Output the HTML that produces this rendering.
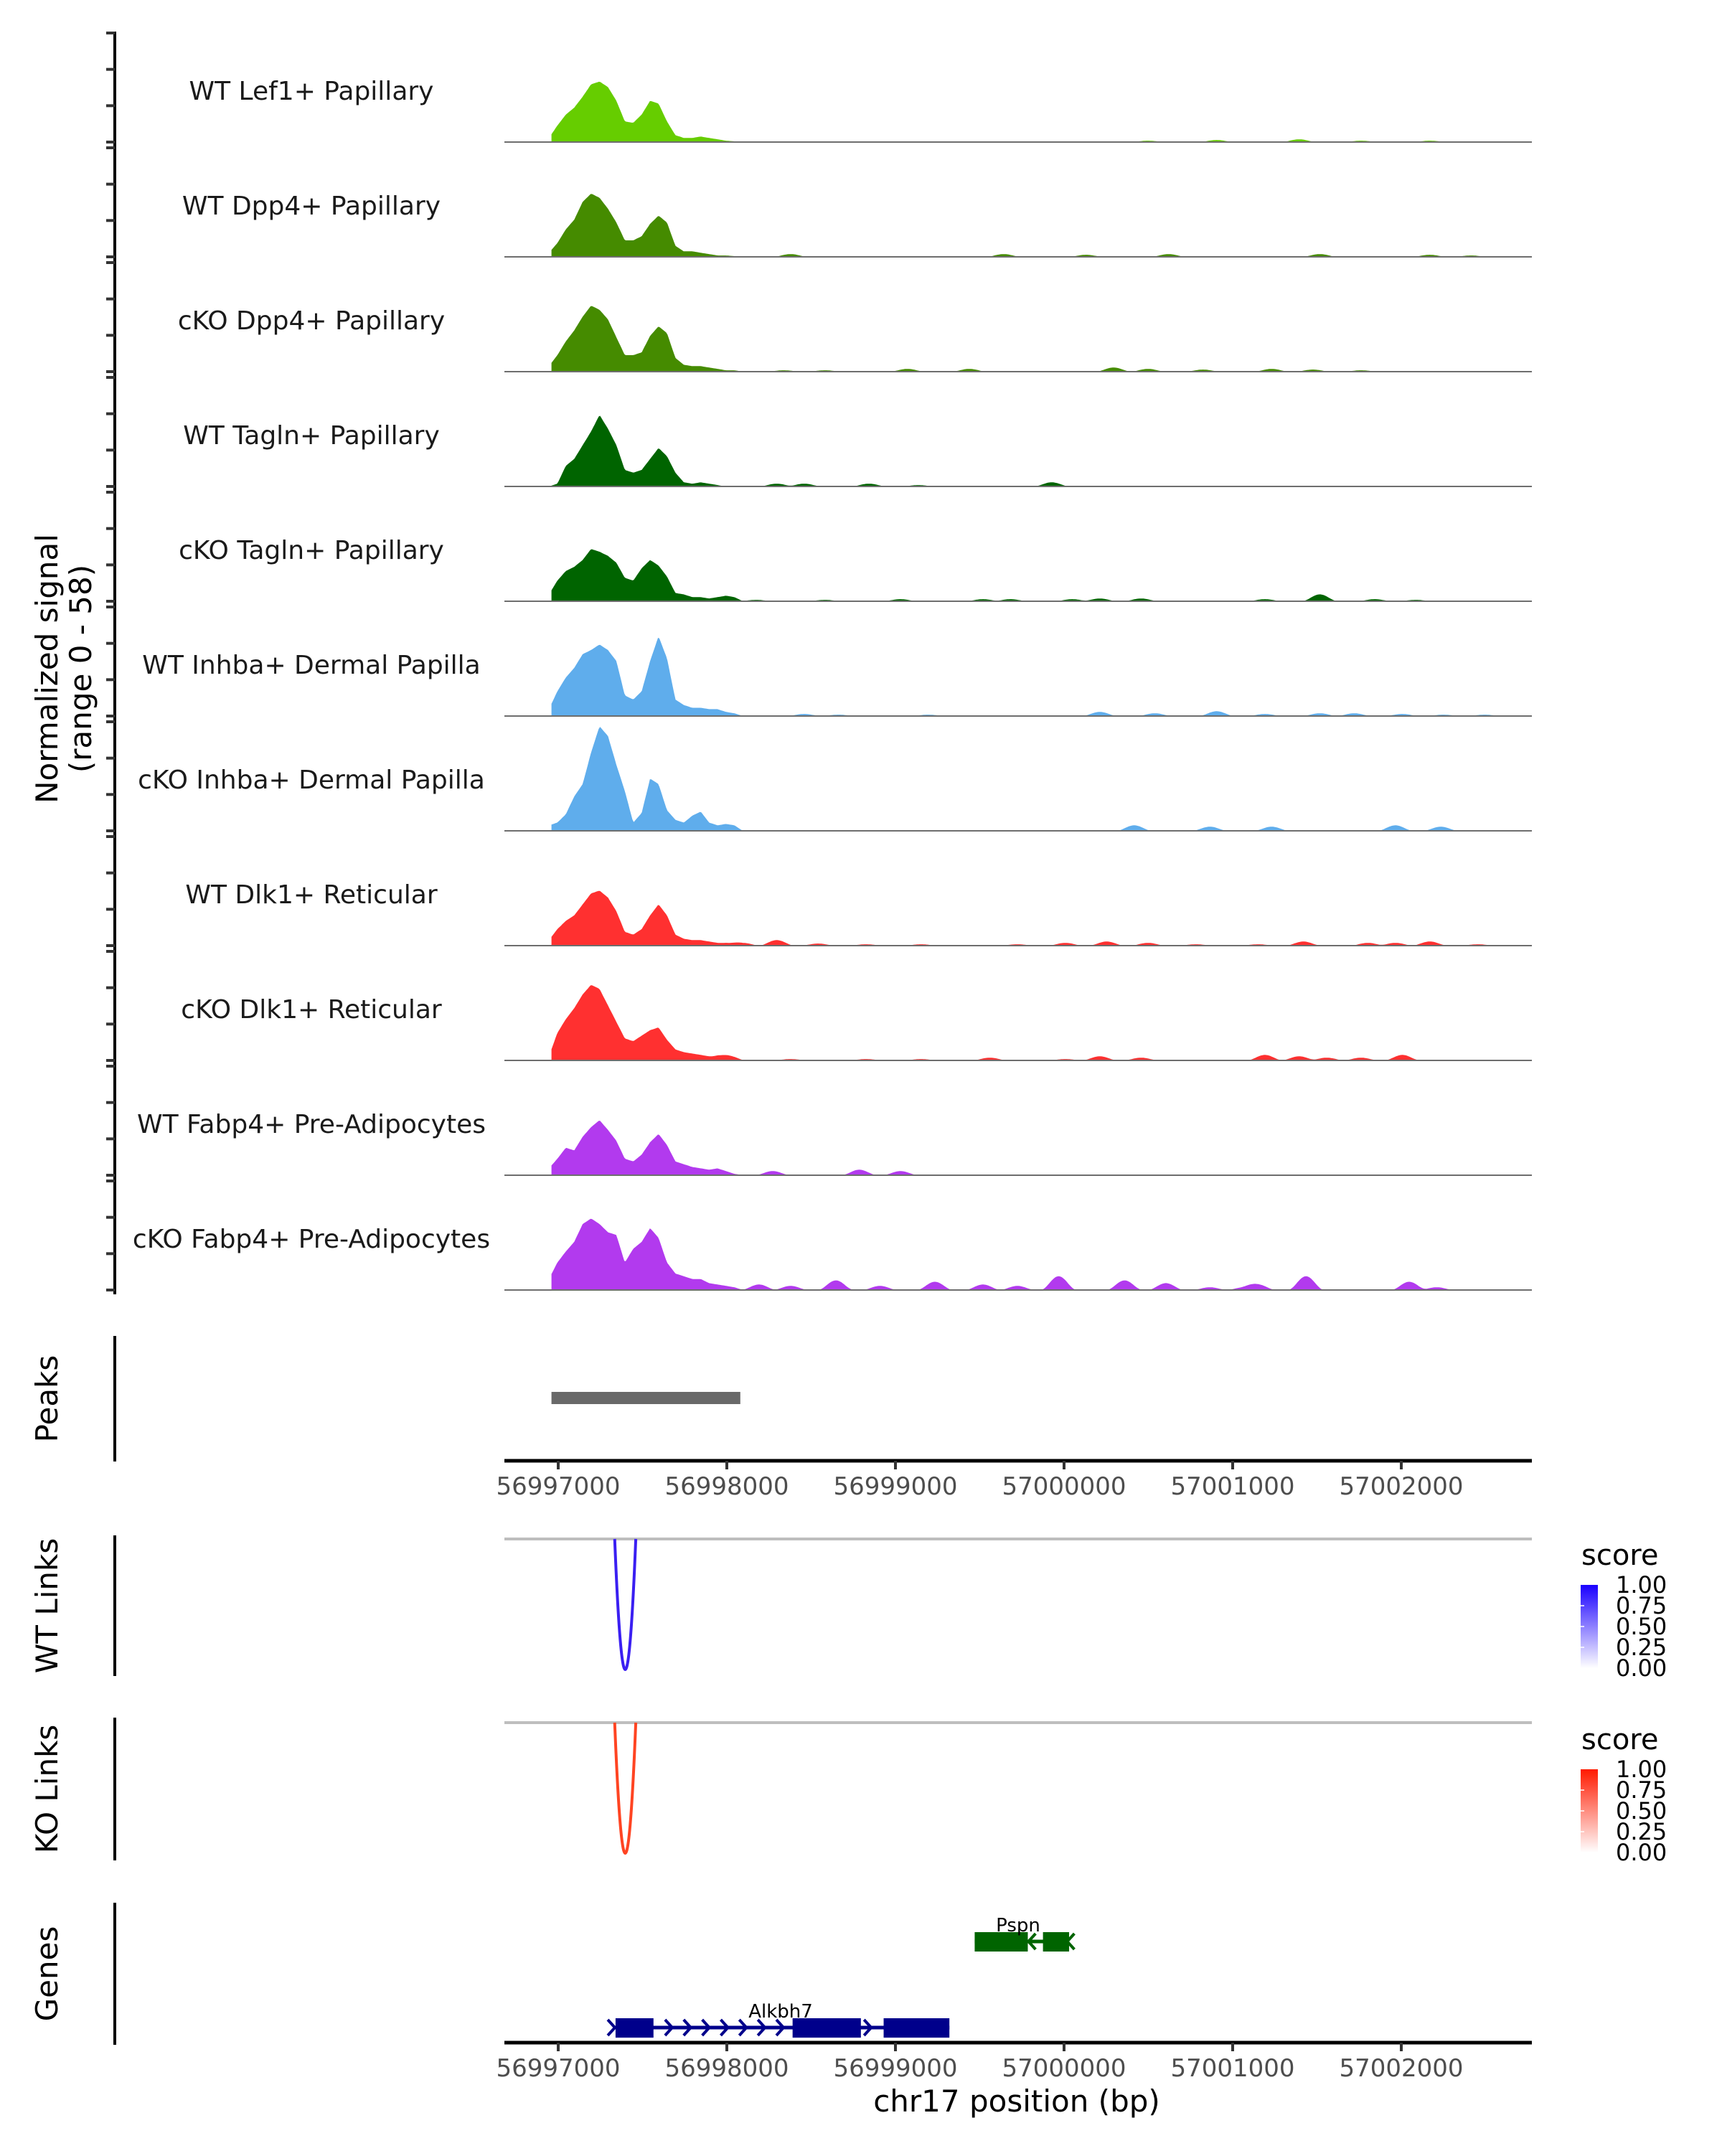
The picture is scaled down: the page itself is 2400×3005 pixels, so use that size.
<!DOCTYPE html>
<html><head><meta charset="utf-8"><style>
html,body{margin:0;padding:0;background:#fff}
svg text{font-family:"DejaVu Sans","Liberation Sans",sans-serif}
</style></head><body>
<svg id="chart" xmlns="http://www.w3.org/2000/svg" width="2400" height="3000" viewBox="0 0 2400 3000">
<defs>
<linearGradient id="gBlue" x1="0" y1="1" x2="0" y2="0"><stop offset="0" stop-color="#ffffff"/><stop offset="1" stop-color="#1a00ff"/></linearGradient>
<linearGradient id="gRed" x1="0" y1="1" x2="0" y2="0"><stop offset="0" stop-color="#ffffff"/><stop offset="1" stop-color="#ff1a00"/></linearGradient>
</defs>
<g id="tracks"></g>
<text transform="translate(80,932) rotate(-90)" text-anchor="middle" font-size="42" fill="#000">Normalized signal</text>
<text transform="translate(127,932) rotate(-90)" text-anchor="middle" font-size="42" fill="#000">(range 0 - 58)</text>
<g id="lower"></g>
</svg>
<script>
// ---- data ----
const trackNames = ["WT Lef1+ Papillary","WT Dpp4+ Papillary","cKO Dpp4+ Papillary","WT Tagln+ Papillary","cKO Tagln+ Papillary","WT Inhba+ Dermal Papilla","cKO Inhba+ Dermal Papilla","WT Dlk1+ Reticular","cKO Dlk1+ Reticular","WT Fabp4+ Pre-Adipocytes","cKO Fabp4+ Pre-Adipocytes"];
const trackColors = ["#66cd00","#458b00","#458b00","#006400","#006400","#5fadec","#5fadec","#ff3030","#ff3030","#b23aee","#b23aee"];
const binStart = 56996920;
const binSize = 50;
// main peak region signal (50bp bins)
const sigLef1 = [3,12,20,25,33,42,44,40,30,15,14,20,30,28,15,5,3,3,4,3,2,1,0.5,0];
const sigWtDpp4 = [3,10,20,27,40,46,43,35,25,12,12,15,24,30,25,8,4,4,3,2,1,1,0.5,0];
const sigKoDpp4 = [4,12,22,30,40,48,45,38,25,12,12,14,26,33,28,10,5,4,4,3,2,1,1,0];
const sigWtTagln = [0,2,15,20,30,40,52,42,30,12,10,12,20,28,22,10,3,2,3,2,1,0,0,0];
const sigKoTagln = [5,15,22,25,30,38,36,33,28,17,15,24,30,26,18,6,5,3,3,2,3,4,3,0];
const sigWtInhba = [5,18,28,35,45,48,52,48,40,15,12,18,40,58,42,12,8,6,6,5,5,3,2,0];
const sigKoInhba = [4,6,12,25,34,57,76,69,48,29,6,13,38,34,15,8,6,11,14,6,4,5,4,0];
const sigWtDlk1 = [4,12,18,22,30,38,40,35,25,10,8,12,22,30,22,8,5,4,4,3,2,2,1,0];
const sigKoDlk1 = [3,20,30,38,48,55,52,40,28,16,14,18,22,24,15,8,6,5,4,3,3,2,1,0];
const sigWtFabp4 = [5,12,20,18,28,35,40,33,25,12,10,15,24,30,22,10,8,6,5,4,5,3,1,0];
const sigKoFabp4 = [8,20,28,35,48,52,48,42,40,20,30,35,45,38,20,12,10,8,8,5,4,3,2,0];
const mainSignals = [sigLef1,sigWtDpp4,sigKoDpp4,sigWtTagln,sigKoTagln,sigWtInhba,sigKoInhba,sigWtDlk1,sigKoDlk1,sigWtFabp4,sigKoFabp4];
// small distal bumps: [bp offset from 56997000, height]
const bumpsLef1 = [[3498,1],[3905,1.5],[4394,2],[4761,1],[5169,1]];
const bumpsWtDpp4 = [[1378,2],[2642,2],[3131,1.5],[3620,2],[4517,2],[5169,1.5],[5414,1]];
const bumpsKoDpp4 = [[1337,1],[1582,1],[2071,2],[2438,2],[3294,3],[3498,2],[3824,1.5],[4231,2],[4476,1.5],[4761,1]];
const bumpsWtTagln = [[1296,2],[1459,2],[1843,2],[2136,1],[2927,3]];
const bumpsKoTagln = [[1174,1],[1582,1],[2030,1.5],[2519,1.5],[2682,1.5],[3049,1.5],[3212,2],[3457,2],[4191,1.5],[4517,5],[4843,1.5],[5087,1]];
const bumpsWtInhba = [[1459,1.5],[1663,1],[2193,1],[3212,3],[3538,2],[3905,3.5],[4191,1.5],[4517,2],[4721,2],[5006,1.5],[5250,1],[5495,1]];
const bumpsKoInhba = [[3416,4],[3865,3],[4231,3],[4965,4],[5234,3]];
const bumpsWtDlk1 = [[1093,2],[1296,4],[1541,1.5],[1826,1],[2152,1],[2723,1],[3008,2],[3253,3],[3498,2],[3783,1],[4150,1],[4419,3],[4802,2],[4965,2],[5169,3],[5454,1]];
const bumpsKoDlk1 = [[1011,2],[1378,1],[1826,1],[2152,1],[2560,2],[3008,1],[3212,3],[3457,2],[4191,4],[4394,3],[4558,2],[4761,2],[5006,4]];
const bumpsWtFabp4 = [[1272,3],[1786,4],[2030,3]];
const bumpsKoFabp4 = [[1190,4],[1378,3],[1647,7],[1908,3],[2234,6],[2519,4],[2723,3],[2968,10],[3359,7],[3604,5],[3865,2],[4068,2],[4150,4],[4435,10],[5047,6],[5210,2]];
const allBumps = [bumpsLef1,bumpsWtDpp4,bumpsKoDpp4,bumpsWtTagln,bumpsKoTagln,bumpsWtInhba,bumpsKoInhba,bumpsWtDlk1,bumpsKoDlk1,bumpsWtFabp4,bumpsKoFabp4];
const xTicks = [56997000,56998000,56999000,57000000,57001000,57002000];
const peaks = [[56996960,56998080]];
const linkStarts = [56997335];
const linkEnds = [56997460];
const legendLabels = ["1.00","0.75","0.50","0.25","0.00"];
const geneAlkbh7Exons = [[56997340,56997565],[56998390,56998795],[56998930,56999320]];
const genePspnExons = [[56999470,56999785],[56999875,57000030]];

// ---- scales ----
const NS = "http://www.w3.org/2000/svg";
const X0 = 703, X1 = 2135;
const BP0 = 56997000 - (778 - 703) / 0.235, BP1 = 56997000 + (2135 - 778) / 0.235;
function xs(bp){ return X0 + (bp - BP0) / (BP1 - BP0) * (X1 - X0); }
const trackH = 152, yMax = 79.3;
function ys(base, v){ return base - v / yMax * trackH; }
function el(tag, attrs, parent){ const e = document.createElementNS(NS, tag); for (const k in attrs) e.setAttribute(k, attrs[k]); parent.appendChild(e); return e; }

function signalAt(i, bp){
  const s = mainSignals[i];
  let v = 0;
  const f = (bp - binStart) / binSize - 0.5;
  if (f >= 0 && f <= s.length - 1){ const k = Math.floor(f), t = f - k; v = s[k] * (1 - t) + (s[Math.min(k + 1, s.length - 1)]) * t; }
  for (const b of allBumps[i]){ const d = Math.abs(bp - (56997000 + b[0])); if (d < 110) v += b[1] * (0.5 + 0.5 * Math.cos(Math.PI * d / 110)); }
  return v;
}

const tracksG = document.getElementById('tracks');
const yal = el('line', {x1:160, y1:44, x2:160, y2:1804, stroke:'#000', 'stroke-width':4}, tracksG);


for (let i = 0; i < trackNames.length; i++){
  const base = 198 + 160 * i;
  const g = el('g', {}, tracksG);
  
  
  for (let k = 0; k < 4; k++){
    const t = el('line', {x1:148, x2:160, y1: base - k * trackH / 3, y2: base - k * trackH / 3, stroke:'#333', 'stroke-width':4}, g);
    
    
  }
  let d = '';
  const startBp = binStart + 25 + 15;
  d += 'M' + xs(startBp).toFixed(1) + ',' + base;
  for (let bp = startBp; bp <= BP1; bp += 8){ d += 'L' + xs(bp).toFixed(1) + ',' + ys(base, signalAt(i, bp)).toFixed(1); }
  d += 'L' + X1 + ',' + base + 'Z';
  const area = el('path', {d: d, fill: trackColors[i]}, g);
  
  
  const bl = el('line', {x1:X0, x2:X1, y1:base, y2:base, stroke:'#6e6e6e', 'stroke-width':2}, g);
  
  
  const lab = el('text', {x:434, y: base - 59, 'text-anchor':'middle', 'font-size':36, fill:'#1a1a1a'}, g);
  lab.textContent = trackNames[i];
  
  
}

const L = document.getElementById('lower');
function axisLeft(y1, y2, label, name){
  const a = el('line', {x1:160, x2:160, y1:y1, y2:y2, stroke:'#000', 'stroke-width':4}, L);
  
  
  const t = el('text', {transform:'translate(80,' + ((y1 + y2) / 2) + ') rotate(-90)', 'text-anchor':'middle', 'font-size':42, fill:'#000'}, L);
  t.textContent = label;
  
  
}
axisLeft(1862, 2037, 'Peaks', 'peaks');
axisLeft(2140, 2336, 'WT Links', 'wt-links');
axisLeft(2394, 2593, 'KO Links', 'ko-links');
axisLeft(2652, 2850, 'Genes', 'genes');

for (const p of peaks){
  const r = el('rect', {x: xs(p[0]), y:1940, width: xs(p[1]) - xs(p[0]), height:17, fill:'#696969'}, L);
  
  
}
function xAxis(y, labY, name){
  const a = el('line', {x1:X0, x2:X1, y1:y, y2:y, stroke:'#000', 'stroke-width':5}, L);
  
  
  for (const t of xTicks){
    const tk = el('line', {x1: xs(t), x2: xs(t), y1: y, y2: y + 12, stroke:'#333', 'stroke-width':4}, L);
    
    
    const tl = el('text', {x: xs(t), y: labY, 'text-anchor':'middle', 'font-size':34, fill:'#4d4d4d'}, L);
    tl.textContent = t;
    
    
  }
}
xAxis(2036, 2083, 'peaks-x-axis');
xAxis(2847, 2894, 'x-axis');
const xt = el('text', {x:1417, y:2943, 'text-anchor':'middle', 'font-size':42, fill:'#000'}, L);
xt.textContent = 'chr17 position (bp)';



function links(top, bottom, color, grad, legTop, name){
  const gl = el('line', {x1:X0, x2:X1, y1:top, y2:top, stroke:'#bebebe', 'stroke-width':4}, L);
  
  
  for (let i = 0; i < linkStarts.length; i++){
    const a = xs(linkStarts[i]), b = xs(linkEnds[i]), m = (a + b) / 2;
    const d = 'M' + a + ',' + top + ' Q' + m + ',' + (2 * bottom - top) + ' ' + b + ',' + top;
    const p = el('path', {d: d, fill:'none', stroke: color, 'stroke-width':4}, L);
    
    
  }
  const tt = el('text', {x:2204, y: legTop - 28, 'font-size':40, fill:'#000'}, L);
  tt.textContent = 'score';
  
  
  const cb = el('rect', {x:2203, y:legTop, width:24, height:116, fill:'url(#' + grad + ')'}, L);
  
  
  legendLabels.forEach((s, k) => {
    const yy = legTop + k * 29;
    const tl = el('text', {x:2252, y: yy + 11, 'font-size':32, fill:'#000'}, L);
    tl.textContent = s;
    
    
    if (k > 0 && k < 4){ const tk = el('line', {x1:2203, x2:2208, y1:yy, y2:yy, stroke:'#fff', 'stroke-width':1.5}, L);   }
  });
}
links(2145, 2327, '#3a1ff2', 'gBlue', 2209, 'wt-links');
links(2401, 2583, '#ff4422', 'gRed', 2466, 'ko-links');

function gene(exons, yc, color, label, labX, plus, chevrons, name){
  const a = xs(exons[0][0]), b = xs(exons[exons.length - 1][1]);
  const ln = el('line', {x1:a, x2:b, y1:yc, y2:yc, stroke:color, 'stroke-width':5}, L);
  
  
  for (const e of exons){
    const r = el('rect', {x: xs(e[0]), y: yc - 13, width: xs(e[1]) - xs(e[0]), height:27, fill: color}, L);
    
    
  }
  for (const c of chevrons){
    const cx = xs(c), s = plus ? 1 : -1;
    const p = el('path', {d: 'M' + (cx - 5 * s) + ',' + (yc - 11) + ' L' + (cx + 5 * s) + ',' + yc + ' L' + (cx - 5 * s) + ',' + (yc + 11), fill:'none', stroke: color, 'stroke-width':4}, L);
    
    
  }
  const t = el('text', {x: labX, y: yc - 14, 'text-anchor':'middle', 'font-size':26, fill:'#000'}, L);
  t.textContent = label;
  
  
}
gene(genePspnExons, 2706, '#006400', 'Pspn', 1419, false, [56999810, 57000040], 'gene-pspn');
gene(geneAlkbh7Exons, 2826, '#00008b', 'Alkbh7', 1088, true, [56997315, 56997655, 56997765, 56997875, 56997985, 56998095, 56998205, 56998315, 56998835], 'gene-alkbh7');
</script>
</body></html>
